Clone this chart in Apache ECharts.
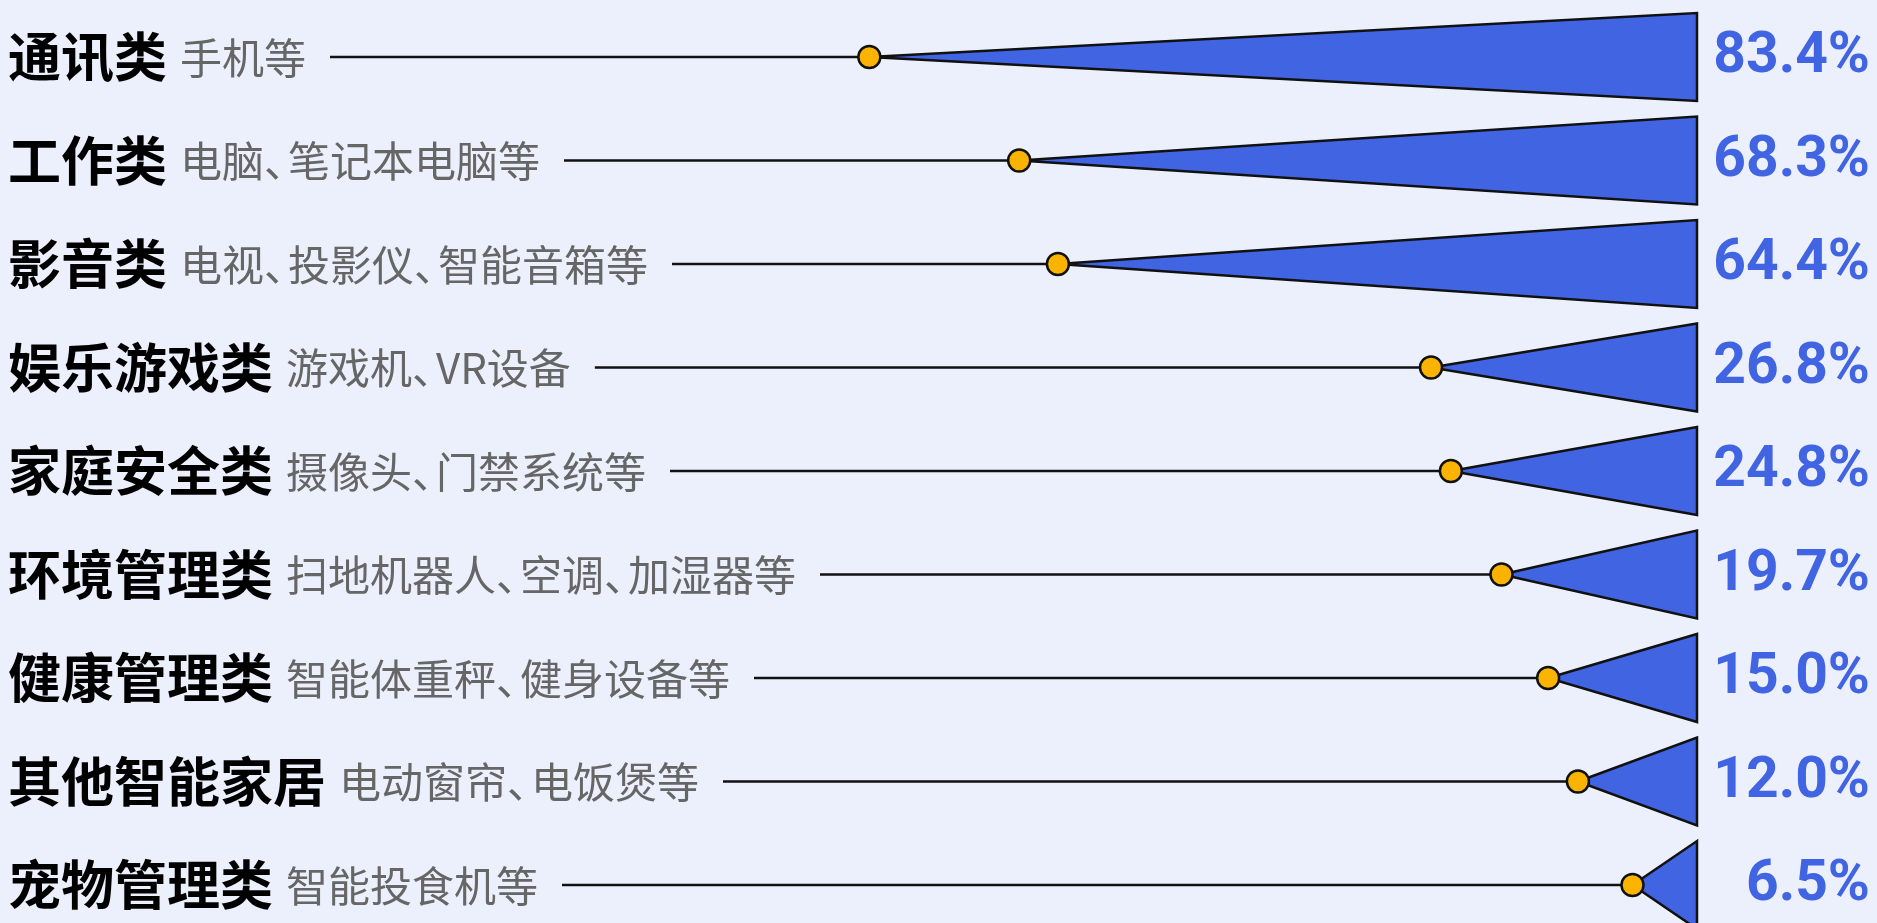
<!DOCTYPE html>
<html>
<head>
<meta charset="utf-8">
<script src="https://cdn.jsdelivr.net/npm/echarts@6/dist/echarts.min.js"></script>
<style>
html,body{margin:0;padding:0;background:#ECF0FC;}
#chart{width:1877px;height:923px;}
</style>
</head>
<body>
<div id="chart"></div>
<script>
var categories = ['通讯类', '工作类', '影音类', '娱乐游戏类', '家庭安全类', '环境管理类', '健康管理类', '其他智能家居', '宠物管理类'];
var descriptions = ['手机等', '电脑、笔记本电脑等', '电视、投影仪、智能音箱等', '游戏机、VR设备', '摄像头、门禁系统等', '扫地机器人、空调、加湿器等', '智能体重秤、健身设备等', '电动窗帘、电饭煲等', '智能投食机等'];
var values = [83.4, 68.3, 64.4, 26.8, 24.8, 19.7, 15.0, 12.0, 6.5];

var CJK = '"Noto Sans CJK SC", "Noto Sans", sans-serif';
var fontBold = 'bold 53px ' + CJK;
var fontDesc = '42px ' + CJK;
var fontPct = 'bold 57px Roboto, "Noto Sans", sans-serif';
var COMMA_W = 24;

var measureCtx = document.createElement('canvas').getContext('2d');
function textWidth(t, f) { measureCtx.font = f; return measureCtx.measureText(t).width; }

function descRich(t) {
  var parts = t.split('、');
  return parts.map(function (p) { return p ? '{a|' + p + '}' : ''; }).join('{p|、}');
}
function descWidth(t) {
  var n = t.split('、').length - 1;
  return textWidth(t.replace(/、/g, ''), fontDesc) + n * COMMA_W;
}

var chart = echarts.init(document.getElementById('chart'));
var data = values.map(function (v, i) { return [v, i]; });

chart.setOption({
  backgroundColor: '#ECF0FC',
  animation: false,
  grid: { left: 0, right: 180, top: 57, bottom: 38 },
  xAxis: { type: 'value', inverse: true, min: 0, max: 171, show: false },
  yAxis: { type: 'value', inverse: true, min: 0, max: 8, show: false },
  series: [{
    type: 'custom',
    clip: false,
    data: data,
    encode: { x: 0, y: 1 },
    renderItem: function (params, api) {
      var v = api.value(0), i = api.value(1);
      var apex = api.coord([v, i]);
      var base = api.coord([0, i]);
      var cy = apex[1];
      var half = 44;
      var x0 = 8;
      var wCat = textWidth(categories[i], fontBold);
      var xDesc = x0 + wCat + 13;
      var wDesc = descWidth(descriptions[i]);
      var lineStart = xDesc + wDesc + 24;
      return {
        type: 'group',
        children: [
          { type: 'text', style: { x: x0, y: cy, text: categories[i], font: fontBold, fill: '#000', align: 'left', verticalAlign: 'middle' } },
          { type: 'text', style: { x: xDesc, y: cy + 1, text: descRich(descriptions[i]), align: 'left', verticalAlign: 'middle',
            rich: {
              a: { font: fontDesc, fill: '#666', color: '#666' },
              p: { font: fontDesc, fill: '#666', color: '#666', width: COMMA_W, align: 'left' }
            } } },
          { type: 'line', shape: { x1: lineStart, y1: cy, x2: apex[0], y2: cy }, style: { stroke: '#111', lineWidth: 2.5 } },
          { type: 'polygon', shape: { points: [[apex[0], cy], [base[0], cy - half], [base[0], cy + half]] }, style: { fill: '#4164E2', stroke: '#111', lineWidth: 2.5, lineJoin: 'miter' } },
          { type: 'circle', shape: { cx: apex[0], cy: cy, r: 11 }, style: { fill: '#FAB400', stroke: '#111', lineWidth: 2.5 } },
          { type: 'text', style: { x: base[0] + 173, y: cy + 1, text: v.toFixed(1) + '%', font: fontPct, fill: '#4164E2', align: 'right', verticalAlign: 'middle' } }
        ]
      };
    }
  }]
});
</script>
</body>
</html>
